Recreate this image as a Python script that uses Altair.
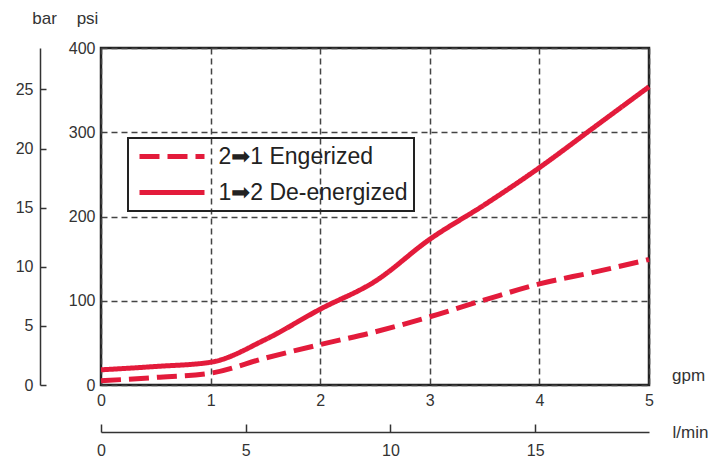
import altair as alt
import pandas as pd

# ---- data ----
gpm = [0, 0.5, 1, 1.5, 2, 2.5, 3, 3.5, 4, 4.5, 5]
psi_deenergized = [18, 22, 27, 54, 90, 123, 173, 214, 258, 306, 354]
psi_energized = [5, 9, 14, 32, 48, 63, 81, 101, 120, 134, 149]
series_names = ["2\u27a11 Engerized", "1\u27a12 De-energized"]

psi_ticks = [0, 100, 200, 300, 400]
gpm_ticks = [0, 1, 2, 3, 4, 5]
bar_ticks = [0, 5, 10, 15, 20, 25]
lmin_ticks = [0, 5, 10, 15]

RED = "#E31B3B"
FONT = "Liberation Sans"
TXT = "#333333"

rows = []
for g, e, d in zip(gpm, psi_energized, psi_deenergized):
    rows.append({"gpm": g, "psi": e, "series": series_names[0]})
    rows.append({"gpm": g, "psi": d, "series": series_names[1]})
line_df = pd.DataFrame(rows)

lines = alt.Chart(line_df).mark_line(
    color=RED, strokeWidth=5, interpolate="monotone", strokeCap="butt"
).encode(
    x=alt.X(
        "gpm:Q",
        scale=alt.Scale(domain=[0, 5], nice=False, zero=False),
        axis=alt.Axis(
            values=gpm_ticks, title="gpm", grid=True, domain=False, ticks=False,
            labelPadding=7, labelFlush=False, labelOverlap=False,
            labelFont=FONT, labelFontSize=16, labelColor=TXT,
            titleFont=FONT, titleFontSize=17, titleFontWeight="normal", titleColor=TXT,
            titleX=587, titleY=-10, titleAngle=0, titleAlign="center", titleBaseline="middle",
            gridDash=[6, 4], gridColor="#444444", gridWidth=1.5, gridOpacity=1,
        ),
    ),
    y=alt.Y(
        "psi:Q",
        scale=alt.Scale(domain=[0, 400], nice=False),
        axis=alt.Axis(
            values=psi_ticks, title="psi", grid=True, domain=False, ticks=False,
            labelPadding=6, labelFlush=False, labelOverlap=False,
            labelFont=FONT, labelFontSize=16, labelColor=TXT,
            titleFont=FONT, titleFontSize=17, titleFontWeight="normal", titleColor=TXT,
            titleX=-14, titleY=-30, titleAngle=0, titleAlign="center", titleBaseline="middle",
            gridDash=[6, 4], gridColor="#444444", gridWidth=1.5, gridOpacity=1,
        ),
    ),
    strokeDash=alt.StrokeDash(
        "series:N",
        scale=alt.Scale(domain=series_names, range=[[20, 8], [1, 0]]),
        legend=alt.Legend(
            title=None, orient="none", legendX=27, legendY=90,
            symbolType="M-3.25,0H3.25", symbolSize=400, symbolStrokeWidth=5,
            symbolStrokeColor=RED, symbolOffset=25.5, labelOffset=34,
            labelFont=FONT, labelFontSize=23, labelColor="#222222", labelLimit=500,
            rowPadding=11, padding=6, strokeColor="#222222",
        ),
    ),
)

bar_df = pd.DataFrame({"bar": bar_ticks})
bar_layer = alt.Chart(bar_df).mark_point(opacity=0).encode(
    y=alt.Y(
        "bar:Q",
        scale=alt.Scale(domain=[0, 28.5], nice=False),
        axis=alt.Axis(
            orient="right", offset=-609, values=bar_ticks, title="bar", grid=False,
            domainColor="#333333", domainWidth=1.5, tickColor="#333333", tickWidth=1.5,
            tickSize=6, labelAlign="right", labelBaseline="middle", labelPadding=-13,
            labelFlush=False, labelOverlap=False,
            labelFont=FONT, labelFontSize=16, labelColor=TXT,
            titleFont=FONT, titleFontSize=17, titleFontWeight="normal", titleColor=TXT,
            titleX=4, titleY=-30, titleAngle=0, titleAlign="center", titleBaseline="middle",
        ),
    )
)

lmin_df = pd.DataFrame({"lmin": lmin_ticks})
lmin_layer = alt.Chart(lmin_df).mark_point(opacity=0).encode(
    x=alt.X(
        "lmin:Q",
        scale=alt.Scale(domain=[0, 18.93], nice=False),
        axis=alt.Axis(
            orient="top", offset=-384, values=lmin_ticks, title="l/min", grid=False,
            domainColor="#333333", domainWidth=1.5, tickColor="#333333", tickWidth=1.5,
            tickSize=8, labelBaseline="top", labelPadding=-18,
            labelFlush=False, labelOverlap=False,
            labelFont=FONT, labelFontSize=16, labelColor=TXT,
            titleFont=FONT, titleFontSize=17, titleFontWeight="normal", titleColor=TXT,
            titleX=589, titleY=0, titleAngle=0, titleAlign="center", titleBaseline="middle",
        ),
    )
)

chart = alt.layer(lines, bar_layer, lmin_layer).resolve_scale(
    x="independent", y="independent"
).properties(
    width=548, height=337,
    autosize=alt.AutoSizeParams(type="none"),
    padding={"left": 93, "top": 40, "right": 70, "bottom": 73},
).configure_view(
    stroke="#222222", strokeWidth=2.5
).configure_legend(
    strokeWidth=2
)

chart.save("out.html", embed_options={"renderer": "svg", "actions": False})
